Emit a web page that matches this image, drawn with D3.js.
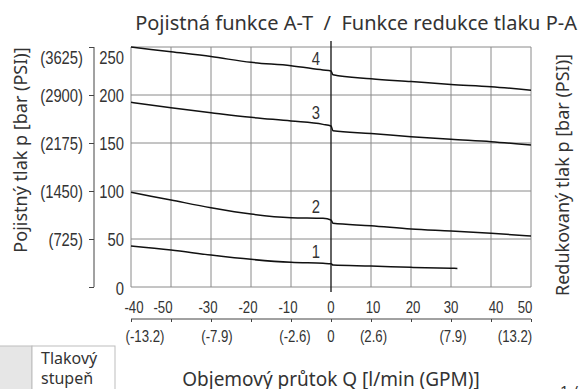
<!DOCTYPE html>
<html>
<head>
<meta charset="utf-8">
<script src="https://cdn.jsdelivr.net/npm/d3@7"></script>
<style>
  body { margin: 0; background: #fff; }
  svg text { fill: #333; }
  .num { font-family: "Liberation Sans", Arial, sans-serif; }
  .lbl { font-family: "Noto Sans", "Open Sans", sans-serif; }
</style>
</head>
<body>
<div id="chart"></div>
<script>
// flow Q [l/min] and reduced / relief pressure [bar] per pressure stage
var flow = [-50, -40, -30, -20, -10, -2, 0, 0.5, 10, 20, 30, 40, 50];
var stage4 = [250, 245, 240, 234, 230.5, 226, 225, 221, 217, 214, 211, 208.6, 205];
var stage3 = [192.4, 186.8, 181.6, 176.7, 172.9, 169.4, 167.7, 162.8, 160, 156.6, 153.8, 151.4, 147.9];
var stage2 = [98.6, 90.6, 82.6, 76, 72.2, 71.5, 69.8, 66.3, 63.9, 60.4, 58.3, 55.9, 53.1];
var flow1 = [-50, -40, -30, -20, -10, -2, 0, 0.5, 10, 20, 30, 31.6];
var stage1 = [42.7, 38.5, 33.3, 28.8, 25.7, 24.7, 24.3, 22.9, 21.9, 20.5, 19.5, 19.4];
var stageNames = ['1', '2', '3', '4'];

var flowTicks = [-50, -40, -30, -20, -10, 0, 10, 20, 30, 40, 50];
var flowTickLabels = ['-40', '-50', '-30', '-20', '-10', '0', '10', '20', '30', '40', '50'];
var gpmTicks = [-50, -30, -10, 0, 10, 30, 50];
var gpmTickLabels = ['(-13.2)', '(-7.9)', '(-2.6)', '0', '(2.6)', '(7.9)', '(13.2)'];
var barTicks = [0, 50, 100, 150, 200, 250];
var psiTickLabels = ['', '(725)', '(1450)', '(2175)', '(2900)', '(3625)'];

// small nudges so the labels sit like in the printed sheet
var flowNudge = { '-50': 3, '-40': -8, '-30': -3, '-20': -3, '-10': -3, '10': 2, '20': 2, '40': 5, '50': -6 };
var gpmNudge = { '-50': 14, '-30': 6, '-10': 4, '10': 2.5, '30': 2, '50': -16 };

var chart = {

  config: {
    width: 580,
    height: 389,
    left: 131,
    right: 531,
    top: 47,
    bottom: 287,
    narrow: 0.8
  },

  /* ---
   * Draws the whole chart
   */
  display: function(el) {
    this.el = el;
    this.createSvg();
    this.createScales();
    this.createGrid();
    this.createAxes();
    this.createLines();
    this.createTexts();
  },

  createSvg: function() {
    this.svg = d3.select(this.el).append('svg')
                 .attr('width', this.config.width)
                 .attr('height', this.config.height);
  },

  createScales: function() {
    var c = this.config;
    this.x = d3.scaleLinear().domain([-50, 50]).range([c.left, c.right]);
    this.y = d3.scaleLinear().domain([0, 250]).range([c.bottom, c.top]);
  },

  /* ---
   * Condensed numeric labels (squeezed horizontally)
   */
  numLabels: function(data, xf, yf, anchor, size, textf, dy) {
    var k = this.config.narrow;
    this.svg.append('g').selectAll('text')
        .data(data).enter().append('text')
        .attr('class', 'num')
        .attr('transform', function(d, i) {
          return 'translate(' + xf(d, i) + ',' + yf(d, i) + ') scale(' + k + ',1)';
        })
        .attr('dy', dy || 0)
        .attr('text-anchor', anchor)
        .attr('font-size', size)
        .text(textf);
  },

  createGrid: function() {
    var c = this.config, x = this.x, y = this.y;
    var g = this.svg.append('g').attr('stroke', '#8a8a8a').attr('stroke-width', 1);

    g.selectAll('line.v')
     .data(flowTicks.filter(function(d) { return d !== 0; }))
     .enter().append('line')
     .attr('x1', function(d) { return x(d); }).attr('x2', function(d) { return x(d); })
     .attr('y1', c.top).attr('y2', c.bottom);

    g.selectAll('line.h')
     .data(barTicks)
     .enter().append('line')
     .attr('x1', c.left).attr('x2', c.right)
     .attr('y1', function(d) { return y(d); }).attr('y2', function(d) { return y(d); });

    // zero flow line
    this.svg.append('line')
        .attr('x1', x(0)).attr('x2', x(0))
        .attr('y1', c.top - 6).attr('y2', c.bottom + 5)
        .attr('stroke', '#222').attr('stroke-width', 1.4);
  },

  createAxes: function() {
    var c = this.config, x = this.x, y = this.y;

    // left pressure axis
    var left = this.svg.append('g').attr('transform', 'translate(94,0)');
    left.call(d3.axisLeft(y).tickValues(barTicks).tickSize(5).tickFormat(''));
    left.select('.domain').attr('stroke', '#444').attr('d', 'M0,' + c.top + 'V' + c.bottom);
    left.selectAll('.tick line').attr('stroke', '#444');

    function labelY(d) { return y(d) + (d === 250 ? 10 : 0) + (d === 0 ? 1 : 0); }

    this.numLabels(barTicks, function() { return 124; }, labelY, 'end', 18.5,
                   function(d) { return d; }, '0.36em');
    this.numLabels(barTicks, function() { return 83; }, labelY, 'end', 18.5,
                   function(d, i) { return psiTickLabels[i]; }, '0.36em');

    // flow labels under the grid
    this.numLabels(flowTicks, function(d) { return x(d) + (flowNudge[d] || 0); },
                   function() { return 313; }, 'middle', 16.5,
                   function(d, i) { return flowTickLabels[i]; });

    // GPM axis
    var gpm = this.svg.append('g').attr('transform', 'translate(0,319)');
    gpm.call(d3.axisBottom(x).tickValues(flowTicks).tickSize(3).tickFormat(''));
    gpm.select('.domain').attr('stroke', '#444').attr('d', 'M' + c.left + ',0H' + c.right);
    gpm.selectAll('.tick line').attr('stroke', '#444');

    this.numLabels(gpmTicks, function(d) { return x(d) + (gpmNudge[d] || 0); },
                   function() { return 342; }, 'middle', 16.5,
                   function(d, i) { return gpmTickLabels[i]; });
  },

  createLines: function() {
    var x = this.x, y = this.y;
    var line = d3.line()
                 .x(function(d) { return x(d[0]); })
                 .y(function(d) { return y(d[1]); })
                 .curve(d3.curveMonotoneX);

    var series = [
      d3.zip(flow1, stage1),
      d3.zip(flow, stage2),
      d3.zip(flow, stage3),
      d3.zip(flow, stage4)
    ];

    this.svg.append('g').selectAll('path')
        .data(series).enter().append('path')
        .attr('d', line)
        .attr('fill', 'none')
        .attr('stroke', '#111')
        .attr('stroke-width', 1.5);

    // stage numbers just above the curves, left of zero flow
    this.numLabels(series, function() { return x(-3.8); },
                   function(d) { return y(d[5][1]) - 5; }, 'middle', 18.5,
                   function(d, i) { return stageNames[i]; });
  },

  createTexts: function() {
    var svg = this.svg;

    svg.append('text').attr('class', 'lbl')
       .attr('x', 577).attr('y', 30).attr('text-anchor', 'end').attr('font-size', 20)
       .text('Pojistná funkce A-T\u00a0 /\u00a0 Funkce redukce tlaku P-A');

    svg.append('text').attr('class', 'lbl')
       .attr('transform', 'translate(27,150) rotate(-90)')
       .attr('text-anchor', 'middle').attr('font-size', 18)
       .text('Pojistný tlak p [bar (PSI)]');

    svg.append('text').attr('class', 'lbl')
       .attr('transform', 'translate(569,175) rotate(-90)')
       .attr('text-anchor', 'middle').attr('font-size', 18)
       .text('Redukovaný tlak p [bar (PSI)]');

    svg.append('text').attr('class', 'lbl')
       .attr('x', 331).attr('y', 386).attr('text-anchor', 'middle').attr('font-size', 19)
       .text('Objemový průtok Q [l/min (GPM)]');

    // legend table stub
    svg.append('rect').attr('x', -1).attr('y', 346).attr('width', 33).attr('height', 50)
       .attr('fill', '#e6e6e6').attr('stroke', '#bdbdbd');
    svg.append('rect').attr('x', 32).attr('y', 346).attr('width', 83).attr('height', 50)
       .attr('fill', '#fff').attr('stroke', '#bdbdbd');
    svg.append('text').attr('class', 'lbl').attr('x', 41).attr('y', 364).attr('font-size', 16).text('Tlakový');
    svg.append('text').attr('class', 'lbl').attr('x', 41).attr('y', 384).attr('font-size', 16).text('stupeň');

    svg.append('text').attr('class', 'lbl').attr('x', 560).attr('y', 396).attr('font-size', 15).text('1 / 2');
  }

};

chart.display('#chart');
</script>
</body>
</html>
